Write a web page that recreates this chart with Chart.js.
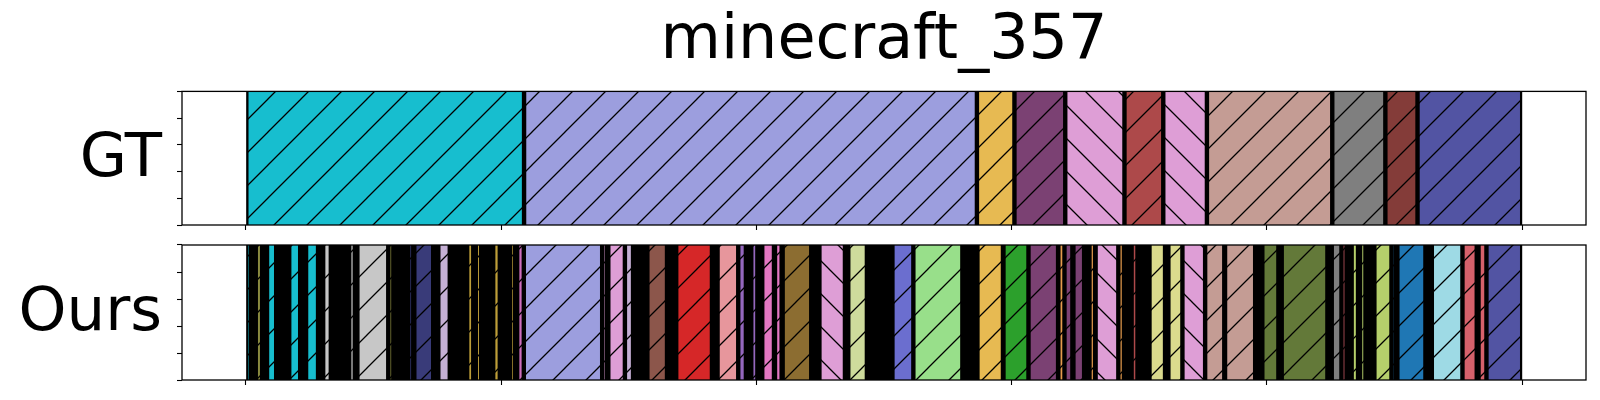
<!DOCTYPE html>
<html>
<head>
<meta charset="utf-8">
<script src="https://cdn.jsdelivr.net/npm/chart.js@4"></script>
<style>
  html, body { margin: 0; padding: 0; background: #fff; }
  #wrap { position: relative; width: 1600px; height: 400px; background: #fff; }
  .row { position: absolute; left: 0; width: 1600px; }
  #row-gt { top: 0; height: 236px; }
  #row-ours { top: 236px; height: 164px; }
  canvas { display: block; }
</style>
</head>
<body>
<div id="wrap">
  <div class="row" id="row-gt"><canvas id="gtChart" width="1600" height="236"></canvas></div>
  <div class="row" id="row-ours"><canvas id="oursChart" width="1600" height="164"></canvas></div>
</div>
<script>
// Labels / ticks
const titleText = 'minecraft_357';
const rowLabels = ['GT', 'Ours'];
const xTickValues = [0, 1000, 2000, 3000, 4000, 5000];
const yTickValues = [0, 0.25, 0.5, 0.75, 1];
const xRange = [-250, 5250];

// Ground truth segments
const gtStart = [0, 1090, 2864, 3011, 3210, 3442, 3594, 3765, 4256, 4464, 4590];
const gtEnd = [1090, 2864, 3011, 3210, 3442, 3594, 3765, 4256, 4464, 4590, 5000];
const gtColor = ['#17becf', '#9c9ede', '#e7ba52', '#7b4173', '#de9ed6', '#ad494a',
    '#de9ed6', '#c49c94', '#7f7f7f', '#843c39', '#5254a3'];
const gtHatch = ['/', '/', '/', '/', '\\', '/', '\\', '/', '/', '/', '/'];

// Predicted segments (visible ones)
const oursStart = [0, 39, 83, 170, 236, 303, 405, 437, 558, 636, 660, 754, 867, 901, 969,
    1035, 1063, 1089, 1396, 1420, 1485, 1573, 1686, 1848, 1929, 1980, 2023, 2073, 2103, 2247,
    2360, 2533, 2615, 2866, 2968, 3066, 3183, 3207, 3242, 3305, 3329, 3418, 3470, 3540, 3614,
    3669, 3758, 3836, 3982, 4058, 4254, 4292, 4332, 4365, 4421, 4488, 4511, 4646, 4766, 4829, 4860];
const oursEnd = [21, 64, 119, 213, 283, 333, 427, 558, 578, 656, 734, 799, 891, 922, 995,
    1055, 1089, 1396, 1415, 1485, 1517, 1650, 1826, 1929, 1959, 2004, 2069, 2099, 2215, 2347,
    2433, 2615, 2807, 2966, 3066, 3182, 3207, 3238, 3284, 3327, 3418, 3440, 3493, 3601, 3669,
    3758, 3833, 3954, 4045, 4237, 4292, 4312, 4357, 4386, 4488, 4506, 4621, 4766, 4822, 4860, 5000];
const oursColor = ['#17becf', '#8a8a40', '#17becf', '#17becf', '#17becf', '#c7c7c7', '#c7c7c7',
    '#c7c7c7', '#8a8a40', '#393b79', '#393b79', '#c5b0d5', '#bd9e39', '#bd9e39', '#bd9e39',
    '#bd9e39', '#ce6dbd', '#9c9ede', '#de9ed6', '#de9ed6', '#c5b0d5', '#8c564b', '#d62728',
    '#e7969c', '#9467bd', '#9467bd', '#e377c2', '#e377c2', '#8c6d31', '#de9ed6', '#cedb9c',
    '#6b6ecf', '#98df8a', '#e7ba52', '#2ca02c', '#7b4173', '#e49a4c', '#7b4173', '#7b4173',
    '#e49a4c', '#de9ed6', '#e49a4c', '#ad494a', '#dbdb8d', '#dbdb8d', '#de9ed6', '#c49c94',
    '#c49c94', '#637939', '#637939', '#7f7f7f', '#d6616b', '#b5cf6b', '#b5cf6b', '#b5cf6b',
    '#1f77b4', '#1f77b4', '#9edae5', '#d6616b', '#d6616b', '#5254a3'];
const oursHatch = ['/', '/', '/', '/', '/', '/', '/', '/', '/', '/', '/', '/', '/', '/', '/',
    '/', '/', '/', '/', '/', '/', '/', '/', '/', '/', '/', '/', '/', '/', '\\',
    '/', '/', '/', '/', '/', '/', '/', '/', '/', '/', '\\', '/', '/', '/', '/',
    '\\', '/', '/', '/', '/', '/', '/', '/', '/', '/', '/', '/', '/', '/', '/', '/'];

// full span of each row; in "Ours" the many very short segments show up as black edges
const gtSpan = [0, 5000];
const oursSpan = [0, 5000];

// Hatched fill, like matplotlib's '/' and '\\'
const makeHatch = (ctx, color, dir) => {
    const s = 33;
    const tile = document.createElement('canvas');
    tile.width = s;
    tile.height = s;
    const g = tile.getContext('2d');
    g.fillStyle = color;
    g.fillRect(0, 0, s, s);
    g.strokeStyle = '#000';
    g.lineWidth = 1.3;
    g.beginPath();
    if (dir === '/') {
        g.moveTo(-2, s + 2); g.lineTo(s + 2, -2);
        g.moveTo(-2, 2); g.lineTo(2, -2);
        g.moveTo(s - 2, s + 2); g.lineTo(s + 2, s - 2);
    } else {
        g.moveTo(-2, -2); g.lineTo(s + 2, s + 2);
        g.moveTo(s - 2, -2); g.lineTo(s + 2, 2);
        g.moveTo(-2, s - 2); g.lineTo(2, s + 2);
    }
    g.stroke();
    const pat = ctx.createPattern(tile, 'repeat');
    pat.setTransform(new DOMMatrix().translate(4, 0));
    return pat;
};

// bars are a bit taller than the plot so the top/bottom edges get clipped away
const buildDatasets = (ctx, starts, ends, colors, hatches) => starts.map((s, i) => ({
    data: [[s, ends[i]]],
    backgroundColor: makeHatch(ctx, colors[i], hatches[i]),
    borderColor: '#000',
    borderWidth: 2.2,
    borderSkipped: false,
    inflateAmount: 0,
    clip: 0,
    grouped: false,
    barPercentage: 1.08,
    categoryPercentage: 1,
    order: 0
}));

// black run drawn under the segments (keeps the shared edges solid)
const spanDataset = (span) => ({
    data: [span],
    backgroundColor: '#000',
    borderWidth: 0,
    clip: 0,
    grouped: false,
    barPercentage: 1.08,
    categoryPercentage: 1,
    order: 1
});

// Row label on the left + frame around the plot
const rowFramePlugin = {
    id: 'rowFrame',
    afterDraw(chart, args, opts) {
        const { ctx, chartArea } = chart;
        ctx.save();
        ctx.font = '61px "DejaVu Sans"';
        ctx.fillStyle = '#000';
        ctx.textAlign = 'right';
        ctx.textBaseline = 'middle';
        ctx.fillText(opts.text, chartArea.left - 20, (chartArea.top + chartArea.bottom) / 2 + 2);
        ctx.lineWidth = 1.3;
        ctx.strokeStyle = '#000';
        ctx.strokeRect(chartArea.left, chartArea.top,
            chartArea.right - chartArea.left, chartArea.bottom - chartArea.top);
        ctx.restore();
    }
};

const makeOptions = (label, padding, showTitle) => ({
    indexAxis: 'y',
    responsive: false,
    animation: false,
    events: [],
    layout: { padding: padding, autoPadding: false },
    plugins: {
        legend: { display: false },
        tooltip: { enabled: false },
        title: {
            display: showTitle,
            text: titleText,
            fullSize: false,
            color: '#000',
            font: { family: 'DejaVu Sans', size: 62, weight: 'normal' },
            padding: { top: 5, bottom: 12 }
        },
        rowFrame: { text: label }
    },
    scales: {
        y: { type: 'category', display: false, stacked: true },
        yTicks: {
            type: 'linear',
            position: 'left',
            min: 0,
            max: 1,
            afterBuildTicks: (scale) => { scale.ticks = yTickValues.map(v => ({ value: v })); },
            afterFit: (scale) => { scale.width = 10; },
            ticks: { display: false },
            grid: { drawOnChartArea: false, drawTicks: true, tickLength: 5, tickColor: '#000', tickWidth: 1.1 },
            border: { display: false }
        },
        x: {
            type: 'linear',
            min: xRange[0],
            max: xRange[1],
            afterBuildTicks: (scale) => { scale.ticks = xTickValues.map(v => ({ value: v })); },
            afterFit: (scale) => { scale.height = 10; },
            ticks: { display: false },
            grid: { drawOnChartArea: false, drawTicks: true, tickLength: 5, tickColor: '#000', tickWidth: 1.1 },
            border: { display: false }
        }
    }
});

document.addEventListener('DOMContentLoaded', () => {
    const gtCtx = document.getElementById('gtChart').getContext('2d');
    const oursCtx = document.getElementById('oursChart').getContext('2d');

    const gtSets = buildDatasets(gtCtx, gtStart, gtEnd, gtColor, gtHatch);
    gtSets.push(spanDataset(gtSpan));

    new Chart(gtCtx, {
        type: 'bar',
        data: { labels: [rowLabels[0]], datasets: gtSets },
        options: makeOptions(rowLabels[0], { left: 172, right: 14, top: 0, bottom: 1 }, true),
        plugins: [rowFramePlugin]
    });

    const oursSets = buildDatasets(oursCtx, oursStart, oursEnd, oursColor, oursHatch);
    oursSets.push(spanDataset(oursSpan));

    new Chart(oursCtx, {
        type: 'bar',
        data: { labels: [rowLabels[1]], datasets: oursSets },
        options: makeOptions(rowLabels[1], { left: 172, right: 14, top: 9, bottom: 10 }, false),
        plugins: [rowFramePlugin]
    });
});
</script>
</body>
</html>
